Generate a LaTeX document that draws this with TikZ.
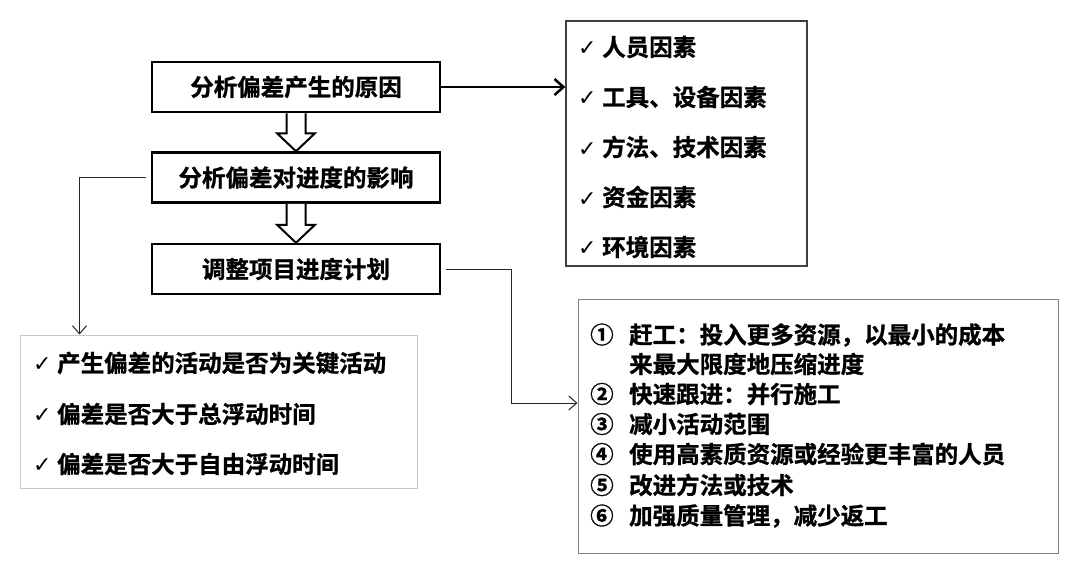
\documentclass[tikz,border=0pt]{standalone}
\usepackage{fontspec}
\usepackage{tikz}
\usetikzlibrary{calc,arrows.meta}
\newfontfamily\cjk{Noto Sans CJK SC}[BoldFont={Noto Sans CJK SC Bold},BoldFeatures={FakeBold=1}]
\newfontfamily\chk{DejaVu Sans}
\newcommand{\bigtxt}{\cjk\bfseries\fontsize{23.5pt}{28pt}\selectfont}
\newcommand{\chkmark}{\makebox[24pt][l]{\chk\fontsize{22pt}{26pt}\selectfont ✓}}
\newcommand{\circno}[1]{\makebox[39pt][l]{#1}}
%hollow arrow from the bottom of one box to the top of the next
\newcommand{\hollowarrow}[2]{%
	\draw[line width=2pt,fill=white,line join=miter]
		($(#1.south)+(-9.5,0)$) -- ($(#2.north)+(-9.5,-18)$) -- ($(#2.north)+(-19,-18)$)
		-- (#2.north) -- ($(#2.north)+(19,-18)$) -- ($(#2.north)+(9.5,-18)$) -- ($(#1.south)+(9.5,0)$);}
\tikzset{
	stagebox/.style={draw,line width=2.5pt,minimum width=288pt,minimum height=50pt,inner sep=0pt,font=\bigtxt},
	listbox/.style={draw=#1,line width=1pt,inner sep=0pt},
	item/.style={anchor=west,inner sep=0pt,font=\bigtxt},
	thinline/.style={-{Straight Barb[length=8pt,width=14pt]},line width=1pt,black!85},
	thickline/.style={-{Straight Barb[length=9pt,width=16pt]},line width=2.5pt}
}

\begin{document}
\begin{tikzpicture}[x=1pt,y=-1pt]
	
	\useasboundingbox (0,0) rectangle (1069,570);
	
	%main stages
	\node[stagebox] (cause)  at (296,87)    {分析偏差产生的原因};
	\node[stagebox] (impact) at (296,177.5) {分析偏差对进度的影响};
	\node[stagebox] (plan)   at (296,269)   {调整项目进度计划};
	
	\hollowarrow{cause}{impact}
	\hollowarrow{impact}{plan}
	
	%factors box
	\node[listbox=black!75,line width=1.3pt,minimum width=241pt,minimum height=245pt] (factors) at (686.5,143.5) {};
	\node[item] (f1) at (578,47)  {\chkmark 人员因素};
	\node[item] (f2) at (578,97)  {\chkmark 工具、设备因素};
	\node[item] (f3) at (578,147) {\chkmark 方法、技术因素};
	\node[item] (f4) at (578,197) {\chkmark 资金因素};
	\node[item] (f5) at (578,247) {\chkmark 环境因素};
	
	\draw[thickline] (cause.east) -- (cause.east -| factors.west);
	
	%check list on the left
	\node[listbox=black!22,minimum width=397pt,minimum height=153pt] (checks) at (218.5,411.5) {};
	\node[item] (c1) at (33,363) {\chkmark 产生偏差的活动是否为关键活动};
	\node[item] (c2) at (33,414) {\chkmark 偏差是否大于总浮动时间};
	\node[item] (c3) at (33,464) {\chkmark 偏差是否大于自由浮动时间};
	
	\draw[thinline] ([xshift=-5pt]impact.west) -| ($(checks.north west)+(60,0)$);
	
	%measures box
	\node[listbox=black!50,minimum width=480pt,minimum height=254pt] (measures) at (818,426) {};
	\node[item] (m1) at (590,335) {\circno{①}赶工：投入更多资源，以最小的成本};
	\node[item] (m1b) at (590,364) {\circno{}来最大限度地压缩进度};
	\node[item] (m2) at (590,394) {\circno{②}快速跟进：并行施工};
	\node[item] (m3) at (590,424) {\circno{③}减小活动范围};
	\node[item] (m4) at (590,454) {\circno{④}使用高素质资源或经验更丰富的人员};
	\node[item] (m5) at (590,485) {\circno{⑤}改进方法或技术};
	\node[item] (m6) at (590,516) {\circno{⑥}加强质量管理，减少返工};
	
	\draw[thinline] ([xshift=5pt]plan.east) -- ++(65,0) |- ([yshift=23pt]measures.west);
	
\end{tikzpicture}
\end{document}
